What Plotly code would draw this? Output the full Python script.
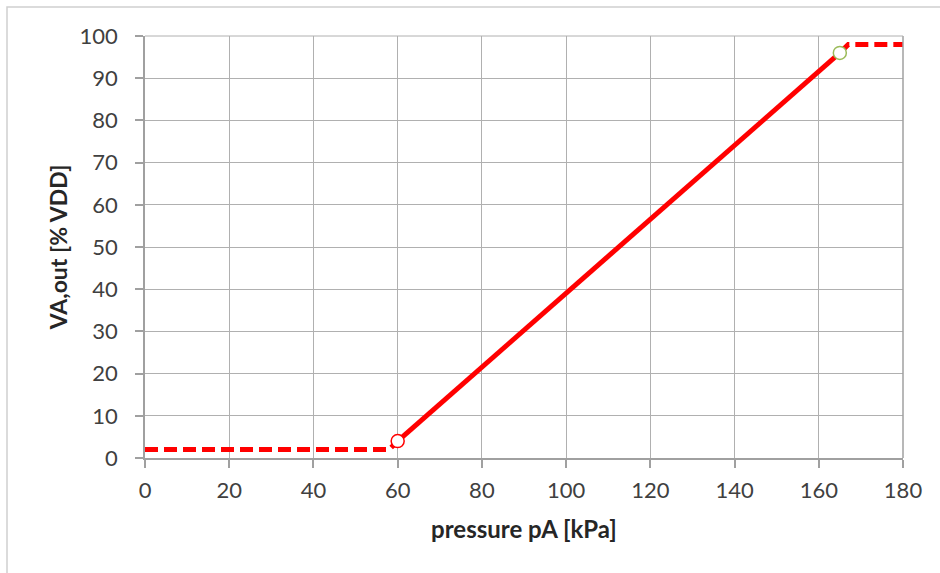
import plotly.graph_objects as go

# data
low_x = [0, 58, 60]
low_y = [2, 2, 4]
mid_x = [60, 165]
mid_y = [4, 96]
high_x = [165, 167, 180]
high_y = [96, 98, 98]
pt_low = (60, 4)
pt_high = (165, 96)
x_ticks = [0, 20, 40, 60, 80, 100, 120, 140, 160, 180]
y_ticks = [0, 10, 20, 30, 40, 50, 60, 70, 80, 90, 100]

RED = "#ff0000"
fig = go.Figure()
fig.add_trace(go.Scatter(x=low_x, y=low_y, mode="lines",
                         line=dict(color=RED, width=5, dash="13px,6px")))
fig.add_trace(go.Scatter(x=high_x, y=high_y, mode="lines",
                         line=dict(color=RED, width=5, dash="13px,6px")))
fig.add_trace(go.Scatter(x=mid_x, y=mid_y, mode="lines",
                         line=dict(color=RED, width=5)))
fig.add_trace(go.Scatter(x=[pt_low[0]], y=[pt_low[1]], mode="markers",
                         marker=dict(size=13, color="white", line=dict(color=RED, width=1.5))))
fig.add_trace(go.Scatter(x=[pt_high[0]], y=[pt_high[1]], mode="markers",
                         marker=dict(size=13, color="white", line=dict(color="#9bbb59", width=1.5))))

FONT = "Lato"
axis_common = dict(showline=True, linecolor="#a0a0a0", linewidth=1.5,
                   showgrid=True, gridcolor="#b0b0b0", gridwidth=1,
                   ticks="outside", ticklen=8, tickcolor="#a0a0a0", tickwidth=1.5,
                   zeroline=False, mirror=False,
                   tickfont=dict(family=FONT, size=22, color="#404040"))
fig.update_xaxes(range=[0, 180], tickvals=x_ticks, ticklabelstandoff=4, **axis_common,
                 title=dict(text="<b>pressure pA [kPa]</b>", standoff=19,
                            font=dict(family=FONT, size=24, color="#262626")))
fig.update_yaxes(range=[0, 100], tickvals=y_ticks, ticklabelstandoff=13, **axis_common,
                 title=dict(text="<b>VA,out [% VDD]</b>", standoff=6,
                            font=dict(family=FONT, size=23, color="#262626")))

# outer chart frame
fig.add_shape(type="rect", xref="paper", yref="paper",
              x0=(7 - 145) / 758, x1=1.5, y0=-1, y1=(458 - 7) / 422,
              line=dict(color="#d0d0d0", width=1.5), layer="below")
# right and top border of plot area
fig.add_shape(type="line", xref="paper", yref="paper", x0=1, x1=1, y0=0, y1=1,
              line=dict(color="#a0a0a0", width=1.5))
fig.add_shape(type="line", xref="paper", yref="paper", x0=0, x1=1, y0=1, y1=1,
              line=dict(color="#b0b0b0", width=1))

fig.update_layout(width=940, height=573, showlegend=False,
                  margin=dict(l=145, r=37, t=36, b=115),
                  paper_bgcolor="white", plot_bgcolor="white")
fig.write_html("out.html", config={"displayModeBar": False},
               post_script="document.body.style.margin='0';document.body.style.overflow='hidden';")
